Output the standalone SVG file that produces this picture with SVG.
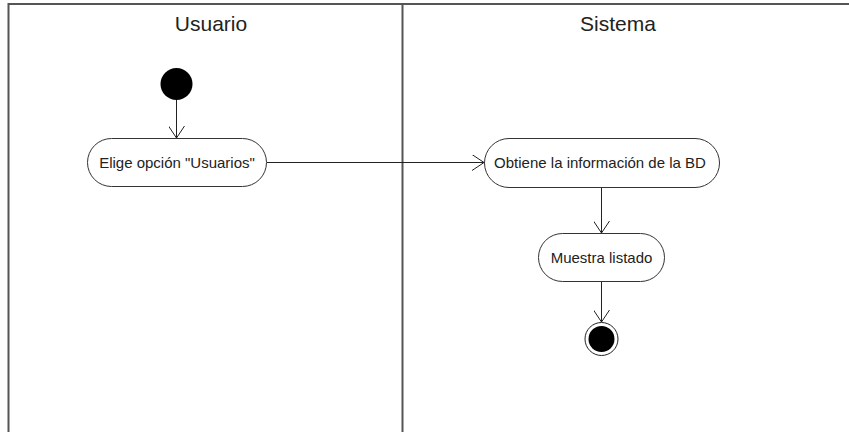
<svg xmlns="http://www.w3.org/2000/svg" width="849" height="432" viewBox="0 0 849 432">
<defs>
<style>
.lane{stroke:#555;stroke-width:2;fill:none}
.node{fill:#fff;stroke:#333;stroke-width:1}
.lbl{font-family:"Liberation Sans",Arial,sans-serif;font-size:15px;fill:#222;text-anchor:middle}
.title{font-family:"Liberation Sans",Arial,sans-serif;font-size:21px;fill:#222;text-anchor:middle}
.edge{stroke:#222;stroke-width:1;fill:none}
</style>
<marker id="open" viewBox="0 0 12 16" refX="12" refY="8" markerWidth="12" markerHeight="16" markerUnits="userSpaceOnUse" orient="auto">
<path d="M0,0 L12,8 L0,16" fill="none" stroke="#222" stroke-width="1"/>
</marker>
</defs>
<rect width="849" height="432" fill="#fff"/>
<g id="lanes">
<path class="lane" d="M8.5,432 V4 H849"/>
<path class="lane" d="M402.5,4 V432"/>
<text class="title" x="211" y="31">Usuario</text>
<text class="title" x="618" y="31">Sistema</text>
</g>
<g id="connectors">
<path class="edge" d="M176.5,100 V138" marker-end="url(#open)"/>
<path class="edge" d="M267,162.5 H484" marker-end="url(#open)"/>
<path class="edge" d="M601.5,188 V233" marker-end="url(#open)"/>
<path class="edge" d="M601.5,282 V322" marker-end="url(#open)"/>
</g>
<g id="start">
<circle cx="176.5" cy="84" r="16" fill="#000"/>
</g>
<g id="elige">
<rect class="node" x="87.5" y="138.5" width="179" height="48" rx="24"/>
<text class="lbl" x="177" y="168">Elige opción "Usuarios"</text>
</g>
<g id="obtiene">
<rect class="node" x="484.5" y="138.5" width="235" height="49" rx="24.5"/>
<text class="lbl" x="600" y="168">Obtiene la información de la BD</text>
</g>
<g id="muestra">
<rect class="node" x="538.5" y="233.5" width="126" height="48" rx="24"/>
<text class="lbl" x="601.5" y="263">Muestra listado</text>
</g>
<g id="end">
<circle cx="601.5" cy="339" r="16.5" fill="#fff" stroke="#222" stroke-width="1"/>
<circle cx="601.5" cy="339" r="13" fill="#000"/>
</g>
</svg>
